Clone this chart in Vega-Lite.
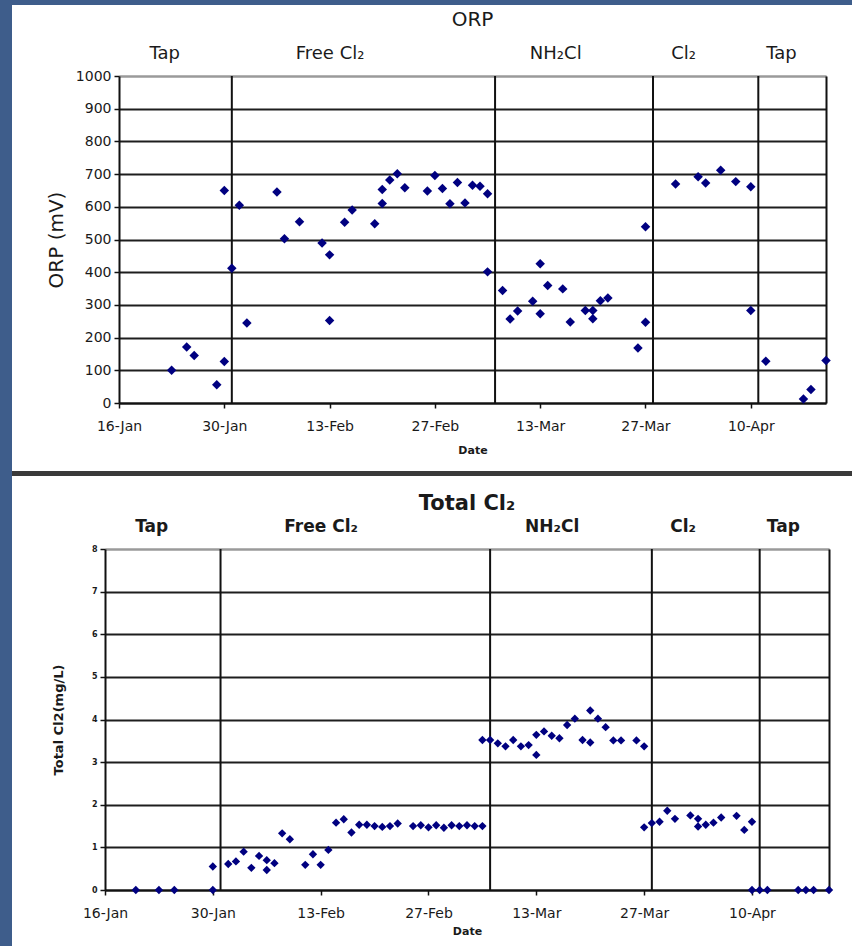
{
  "$schema": "https://vega.github.io/schema/vega-lite/v6.json",
  "background": "white",
  "padding": 0,
  "autosize": {"type": "pad"},
  "config": {
    "view": {"stroke": null},
    "font": "DejaVu Sans",
    "axis": {"labelFont": "DejaVu Sans", "titleFont": "DejaVu Sans"},
    "title": {"font": "DejaVu Sans"}
  },
  "datasets": {
    "blank": [{}],
    "orp": [
      {"date": "2007-01-23", "orp": 100}, {"date": "2007-01-25", "orp": 171}, {"date": "2007-01-26", "orp": 145},
      {"date": "2007-01-29", "orp": 56}, {"date": "2007-01-30", "orp": 127}, {"date": "2007-01-30", "orp": 650},
      {"date": "2007-01-31", "orp": 412}, {"date": "2007-02-01", "orp": 605}, {"date": "2007-02-02", "orp": 245},
      {"date": "2007-02-06", "orp": 645}, {"date": "2007-02-07", "orp": 502}, {"date": "2007-02-09", "orp": 554},
      {"date": "2007-02-12", "orp": 489}, {"date": "2007-02-13", "orp": 453}, {"date": "2007-02-13", "orp": 252},
      {"date": "2007-02-15", "orp": 553}, {"date": "2007-02-16", "orp": 590}, {"date": "2007-02-19", "orp": 548},
      {"date": "2007-02-20", "orp": 610}, {"date": "2007-02-20", "orp": 653}, {"date": "2007-02-21", "orp": 682},
      {"date": "2007-02-22", "orp": 701}, {"date": "2007-02-23", "orp": 658}, {"date": "2007-02-26", "orp": 648},
      {"date": "2007-02-27", "orp": 696}, {"date": "2007-02-28", "orp": 656}, {"date": "2007-03-01", "orp": 609},
      {"date": "2007-03-02", "orp": 674}, {"date": "2007-03-03", "orp": 612}, {"date": "2007-03-04", "orp": 666},
      {"date": "2007-03-05", "orp": 663}, {"date": "2007-03-06", "orp": 640}, {"date": "2007-03-06", "orp": 401},
      {"date": "2007-03-08", "orp": 344}, {"date": "2007-03-09", "orp": 257}, {"date": "2007-03-10", "orp": 281},
      {"date": "2007-03-12", "orp": 311}, {"date": "2007-03-13", "orp": 273}, {"date": "2007-03-13", "orp": 426},
      {"date": "2007-03-14", "orp": 359}, {"date": "2007-03-16", "orp": 349}, {"date": "2007-03-17", "orp": 248},
      {"date": "2007-03-19", "orp": 283}, {"date": "2007-03-20", "orp": 283}, {"date": "2007-03-20", "orp": 258},
      {"date": "2007-03-21", "orp": 313}, {"date": "2007-03-22", "orp": 321}, {"date": "2007-03-26", "orp": 168},
      {"date": "2007-03-27", "orp": 539}, {"date": "2007-03-27", "orp": 247}, {"date": "2007-03-31", "orp": 670},
      {"date": "2007-04-03", "orp": 692}, {"date": "2007-04-04", "orp": 673}, {"date": "2007-04-06", "orp": 712},
      {"date": "2007-04-08", "orp": 677}, {"date": "2007-04-10", "orp": 661}, {"date": "2007-04-10", "orp": 283},
      {"date": "2007-04-12", "orp": 128}, {"date": "2007-04-17", "orp": 12}, {"date": "2007-04-18", "orp": 41},
      {"date": "2007-04-20", "orp": 130}
    ],
    "cl2": [
      {"date": "2007-01-20", "cl2": 0}, {"date": "2007-01-23", "cl2": 0}, {"date": "2007-01-25", "cl2": 0},
      {"date": "2007-01-30", "cl2": 0}, {"date": "2007-01-30", "cl2": 0.55}, {"date": "2007-02-01", "cl2": 0.61},
      {"date": "2007-02-02", "cl2": 0.67}, {"date": "2007-02-03", "cl2": 0.9}, {"date": "2007-02-04", "cl2": 0.52},
      {"date": "2007-02-05", "cl2": 0.8}, {"date": "2007-02-06", "cl2": 0.47}, {"date": "2007-02-06", "cl2": 0.7},
      {"date": "2007-02-07", "cl2": 0.63}, {"date": "2007-02-08", "cl2": 1.33}, {"date": "2007-02-09", "cl2": 1.19},
      {"date": "2007-02-11", "cl2": 0.59}, {"date": "2007-02-12", "cl2": 0.84}, {"date": "2007-02-13", "cl2": 0.59},
      {"date": "2007-02-14", "cl2": 0.94}, {"date": "2007-02-15", "cl2": 1.58}, {"date": "2007-02-16", "cl2": 1.66},
      {"date": "2007-02-17", "cl2": 1.35}, {"date": "2007-02-18", "cl2": 1.53}, {"date": "2007-02-19", "cl2": 1.53},
      {"date": "2007-02-20", "cl2": 1.5}, {"date": "2007-02-21", "cl2": 1.48}, {"date": "2007-02-22", "cl2": 1.5},
      {"date": "2007-02-23", "cl2": 1.56}, {"date": "2007-02-25", "cl2": 1.5}, {"date": "2007-02-26", "cl2": 1.52},
      {"date": "2007-02-27", "cl2": 1.47}, {"date": "2007-02-28", "cl2": 1.52}, {"date": "2007-03-01", "cl2": 1.46},
      {"date": "2007-03-02", "cl2": 1.52}, {"date": "2007-03-03", "cl2": 1.5}, {"date": "2007-03-04", "cl2": 1.52},
      {"date": "2007-03-05", "cl2": 1.5}, {"date": "2007-03-06", "cl2": 1.5}, {"date": "2007-03-06", "cl2": 3.52},
      {"date": "2007-03-07", "cl2": 3.52}, {"date": "2007-03-08", "cl2": 3.44}, {"date": "2007-03-09", "cl2": 3.37},
      {"date": "2007-03-10", "cl2": 3.52}, {"date": "2007-03-11", "cl2": 3.37}, {"date": "2007-03-12", "cl2": 3.4},
      {"date": "2007-03-13", "cl2": 3.17}, {"date": "2007-03-13", "cl2": 3.64}, {"date": "2007-03-14", "cl2": 3.72},
      {"date": "2007-03-15", "cl2": 3.62}, {"date": "2007-03-16", "cl2": 3.56}, {"date": "2007-03-17", "cl2": 3.87},
      {"date": "2007-03-18", "cl2": 4.02}, {"date": "2007-03-19", "cl2": 3.52}, {"date": "2007-03-20", "cl2": 3.46},
      {"date": "2007-03-20", "cl2": 4.21}, {"date": "2007-03-21", "cl2": 4.02}, {"date": "2007-03-22", "cl2": 3.82},
      {"date": "2007-03-23", "cl2": 3.51}, {"date": "2007-03-24", "cl2": 3.51}, {"date": "2007-03-26", "cl2": 3.51},
      {"date": "2007-03-27", "cl2": 3.37}, {"date": "2007-03-27", "cl2": 1.47}, {"date": "2007-03-28", "cl2": 1.57},
      {"date": "2007-03-29", "cl2": 1.6}, {"date": "2007-03-30", "cl2": 1.86}, {"date": "2007-03-31", "cl2": 1.67},
      {"date": "2007-04-02", "cl2": 1.75}, {"date": "2007-04-03", "cl2": 1.67}, {"date": "2007-04-03", "cl2": 1.49},
      {"date": "2007-04-04", "cl2": 1.53}, {"date": "2007-04-05", "cl2": 1.58}, {"date": "2007-04-06", "cl2": 1.7},
      {"date": "2007-04-08", "cl2": 1.74}, {"date": "2007-04-09", "cl2": 1.41}, {"date": "2007-04-10", "cl2": 1.6},
      {"date": "2007-04-10", "cl2": 0}, {"date": "2007-04-11", "cl2": 0}, {"date": "2007-04-12", "cl2": 0},
      {"date": "2007-04-16", "cl2": 0}, {"date": "2007-04-17", "cl2": 0}, {"date": "2007-04-18", "cl2": 0},
      {"date": "2007-04-20", "cl2": 0}
    ],
    "bounds": [
      {"date": "2007-01-31"}, {"date": "2007-03-07"}, {"date": "2007-03-28"}, {"date": "2007-04-11"}
    ],
    "periods": [
      {"period": "Tap", "mid": "2007-01-22"}, {"period": "Free Cl₂", "mid": "2007-02-13"},
      {"period": "NH₂Cl", "mid": "2007-03-15"}, {"period": "Cl₂", "mid": "2007-04-01"},
      {"period": "Tap", "mid": "2007-04-14"}
    ]
  },
  "spacing": 0,
  "hconcat": [
    {
      "data": {"name": "blank"},
      "mark": {"type": "point", "opacity": 0, "size": 0, "filled": true},
      "width": 12, "height": 946,
      "view": {"fill": "#3e5d8b", "stroke": null}
    },
    {
      "spacing": 0,
      "vconcat": [
        {
          "data": {"name": "blank"},
          "mark": {"type": "point", "opacity": 0, "size": 0, "filled": true},
          "width": 840, "height": 5,
          "view": {"fill": "#3e5d8b", "stroke": null}
        },
        {
          "data": {"name": "blank"},
          "mark": {"type": "point", "opacity": 0, "size": 0, "filled": true},
          "width": 10, "height": 5
        },
        {
          "spacing": 0,
          "hconcat": [
            {
              "data": {"name": "blank"},
              "mark": {"type": "point", "opacity": 0, "size": 0, "filled": true},
              "width": 34, "height": 395
            },
            {
              "width": 707, "height": 327,
              "title": {"text": "ORP", "fontSize": 20, "fontWeight": "normal", "color": "#1a1a1a", "offset": 14},
              "resolve": {"axis": {"x": "independent", "y": "independent"}},
              "layer": [
                {
                  "data": {"name": "bounds"},
                  "mark": {"type": "rule", "color": "#111111", "strokeWidth": 2},
                  "encoding": {
                    "x": {
                      "field": "date", "type": "temporal",
                      "scale": {"type": "utc", "domain": [{"year": 2007, "month": 1, "date": 16, "utc": true}, {"year": 2007, "month": 4, "date": 20, "utc": true}]},
                      "axis": {
                        "orient": "bottom",
                        "values": [
                          {"year": 2007, "month": 1, "date": 16, "utc": true}, {"year": 2007, "month": 1, "date": 30, "utc": true},
                          {"year": 2007, "month": 2, "date": 13, "utc": true}, {"year": 2007, "month": 2, "date": 27, "utc": true},
                          {"year": 2007, "month": 3, "date": 13, "utc": true}, {"year": 2007, "month": 3, "date": 27, "utc": true},
                          {"year": 2007, "month": 4, "date": 10, "utc": true}
                        ],
                        "format": "%d-%b",
                        "labelFontSize": 14, "labelColor": "#1a1a1a", "labelPadding": 11,
                        "labelFlush": false, "labelOverlap": false,
                        "tickSize": 5, "tickColor": "#111111", "tickWidth": 1.5,
                        "domainColor": "#111111", "domainWidth": 2, "grid": false,
                        "title": "Date", "titleFontSize": 11, "titleFontWeight": "bold", "titleColor": "#1a1a1a", "titlePadding": 11
                      }
                    }
                  }
                },
                {
                  "data": {"name": "orp"},
                  "mark": {"type": "point", "shape": "diamond", "filled": true, "color": "#000080", "opacity": 1, "size": 90},
                  "encoding": {
                    "x": {"field": "date", "type": "temporal", "axis": null},
                    "y": {
                      "field": "orp", "type": "quantitative",
                      "scale": {"domain": [0, 1000], "nice": false},
                      "axis": {
                        "values": [0, 100, 200, 300, 400, 500, 600, 700, 800, 900, 1000],
                        "format": "d",
                        "labelFontSize": 14, "labelColor": "#1a1a1a", "labelPadding": 3,
                        "tickSize": 5, "tickColor": "#111111", "tickWidth": 1.5,
                        "domainColor": "#111111", "domainWidth": 2,
                        "grid": true, "gridWidth": 2,
                        "gridColor": {"condition": {"test": "datum.value === 1000", "value": "#9a9a9a"}, "value": "#1e1e1e"},
                        "title": "ORP (mV)", "titleFontSize": 20, "titleFontWeight": "normal", "titleColor": "#1a1a1a", "titlePadding": 9
                      }
                    }
                  }
                },
                {
                  "data": {"name": "periods"},
                  "mark": {"type": "point", "opacity": 0},
                  "encoding": {
                    "x": {
                      "field": "mid", "type": "temporal",
                      "axis": {
                        "orient": "top",
                        "values": [
                          {"year": 2007, "month": 1, "date": 22, "utc": true}, {"year": 2007, "month": 2, "date": 13, "utc": true},
                          {"year": 2007, "month": 3, "date": 15, "utc": true}, {"year": 2007, "month": 4, "date": 1, "utc": true},
                          {"year": 2007, "month": 4, "date": 14, "utc": true}
                        ],
                        "format": "%m%d",
                        "labelExpr": "datum.label == '0122' ? 'Tap' : datum.label == '0213' ? 'Free Cl₂' : datum.label == '0315' ? 'NH₂Cl' : datum.label == '0401' ? 'Cl₂' : 'Tap'",
                        "labelFontSize": 18, "labelFontWeight": "normal", "labelColor": "#1a1a1a", "labelPadding": 14,
                        "labelFlush": false, "labelOverlap": false,
                        "ticks": false, "tickSize": 0, "grid": false,
                        "domain": true, "domainColor": "#9a9a9a", "domainWidth": 2, "title": null
                      }
                    },
                    "y": {
                      "datum": 0, "type": "quantitative",
                      "axis": {"orient": "right", "labels": false, "ticks": false, "grid": false, "title": null, "domainColor": "#111111", "domainWidth": 2}
                    }
                  }
                }
              ]
            }
          ]
        },
        {
          "data": {"name": "blank"},
          "mark": {"type": "point", "opacity": 0, "size": 0, "filled": true},
          "width": 840, "height": 5,
          "view": {"fill": "#3a3a3a", "stroke": null}
        },
        {
          "data": {"name": "blank"},
          "mark": {"type": "point", "opacity": 0, "size": 0, "filled": true},
          "width": 10, "height": 17
        },
        {
          "spacing": 0,
          "hconcat": [
            {
              "data": {"name": "blank"},
              "mark": {"type": "point", "opacity": 0, "size": 0, "filled": true},
              "width": 40, "height": 341
            },
            {
              "width": 724, "height": 341,
              "title": {"text": "Total Cl₂", "fontSize": 21, "fontWeight": "bold", "color": "#1a1a1a", "offset": 3},
              "resolve": {"axis": {"x": "independent", "y": "independent"}},
              "layer": [
                {
                  "data": {"name": "bounds"},
                  "mark": {"type": "rule", "color": "#111111", "strokeWidth": 2},
                  "encoding": {
                    "x": {
                      "field": "date", "type": "temporal",
                      "scale": {"type": "utc", "domain": [{"year": 2007, "month": 1, "date": 16, "utc": true}, {"year": 2007, "month": 4, "date": 20, "utc": true}]},
                      "axis": {
                        "orient": "bottom",
                        "values": [
                          {"year": 2007, "month": 1, "date": 16, "utc": true}, {"year": 2007, "month": 1, "date": 30, "utc": true},
                          {"year": 2007, "month": 2, "date": 13, "utc": true}, {"year": 2007, "month": 2, "date": 27, "utc": true},
                          {"year": 2007, "month": 3, "date": 13, "utc": true}, {"year": 2007, "month": 3, "date": 27, "utc": true},
                          {"year": 2007, "month": 4, "date": 10, "utc": true}
                        ],
                        "format": "%d-%b",
                        "labelFontSize": 14, "labelColor": "#1a1a1a", "labelPadding": 11,
                        "labelFlush": false, "labelOverlap": false,
                        "tickSize": 5, "tickColor": "#111111", "tickWidth": 1.5,
                        "domainColor": "#111111", "domainWidth": 2, "grid": false,
                        "title": "Date", "titleFontSize": 11, "titleFontWeight": "bold", "titleColor": "#1a1a1a", "titlePadding": 5
                      }
                    }
                  }
                },
                {
                  "data": {"name": "cl2"},
                  "mark": {"type": "point", "shape": "diamond", "filled": true, "color": "#000080", "opacity": 1, "size": 70},
                  "encoding": {
                    "x": {"field": "date", "type": "temporal", "axis": null},
                    "y": {
                      "field": "cl2", "type": "quantitative",
                      "scale": {"domain": [0, 8], "nice": false},
                      "axis": {
                        "values": [0, 1, 2, 3, 4, 5, 6, 7, 8],
                        "labelFontSize": 8, "labelFontWeight": "bold", "labelColor": "#1a1a1a", "labelPadding": 3,
                        "tickSize": 5, "tickColor": "#111111", "tickWidth": 1.5,
                        "domainColor": "#111111", "domainWidth": 2,
                        "grid": true, "gridWidth": 2,
                        "gridColor": {"condition": {"test": "datum.value === 8", "value": "#9a9a9a"}, "value": "#1e1e1e"},
                        "title": "Total Cl2(mg/L)", "titleFontSize": 13, "titleFontWeight": "bold", "titleColor": "#1a1a1a", "titlePadding": 26
                      }
                    }
                  }
                },
                {
                  "data": {"name": "periods"},
                  "mark": {"type": "point", "opacity": 0},
                  "encoding": {
                    "x": {
                      "field": "mid", "type": "temporal",
                      "axis": {
                        "orient": "top",
                        "values": [
                          {"year": 2007, "month": 1, "date": 22, "utc": true}, {"year": 2007, "month": 2, "date": 13, "utc": true},
                          {"year": 2007, "month": 3, "date": 15, "utc": true}, {"year": 2007, "month": 4, "date": 1, "utc": true},
                          {"year": 2007, "month": 4, "date": 14, "utc": true}
                        ],
                        "format": "%m%d",
                        "labelExpr": "datum.label == '0122' ? 'Tap' : datum.label == '0213' ? 'Free Cl₂' : datum.label == '0315' ? 'NH₂Cl' : datum.label == '0401' ? 'Cl₂' : 'Tap'",
                        "labelFontSize": 17, "labelFontWeight": "bold", "labelColor": "#1a1a1a", "labelPadding": 14,
                        "labelFlush": false, "labelOverlap": false,
                        "ticks": false, "tickSize": 0, "grid": false,
                        "domain": true, "domainColor": "#9a9a9a", "domainWidth": 2, "title": null
                      }
                    },
                    "y": {
                      "datum": 0, "type": "quantitative",
                      "axis": {"orient": "right", "labels": false, "ticks": false, "grid": false, "title": null, "domainColor": "#111111", "domainWidth": 2}
                    }
                  }
                }
              ]
            }
          ]
        }
      ]
    }
  ]
}
